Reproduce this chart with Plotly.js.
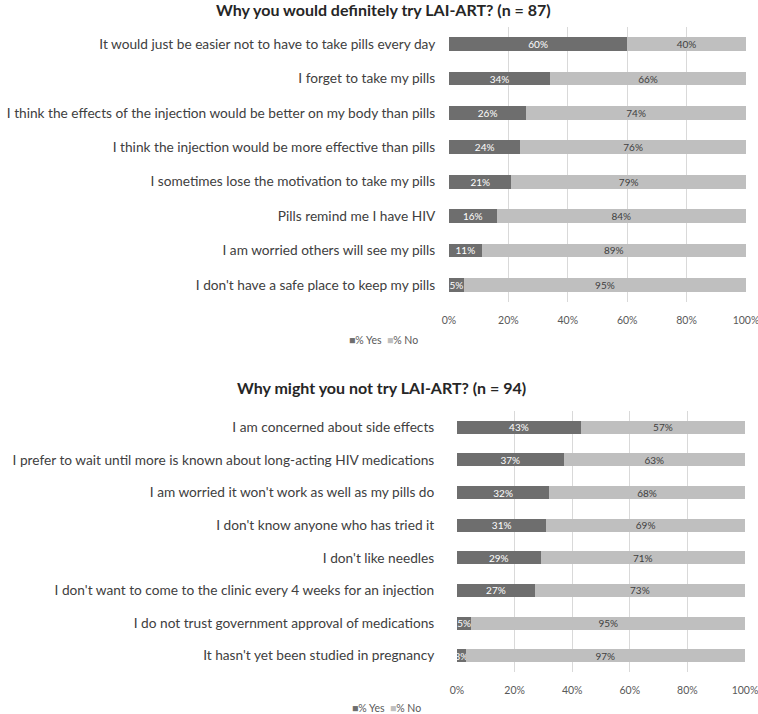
<!DOCTYPE html>
<html>
<head>
<meta charset="utf-8">
<script src="https://cdn.plot.ly/plotly-3.0.1.min.js"></script>
<style>
  html, body { margin: 0; padding: 0; background: #fff; }
  #chart { width: 758px; height: 714px; }
</style>
</head>
<body>
<div id="chart"></div>
<script>
// Top panel: reasons to try
const tryReasons = [
    'It would just be easier not to have to take pills every day',
    'I forget to take my pills',
    'I think the effects of the injection would be better on my body than pills',
    'I think the injection would be more effective than pills',
    'I sometimes lose the motivation to take my pills',
    'Pills remind me I have HIV',
    'I am worried others will see my pills',
    "I don't have a safe place to keep my pills"
];
const tryYes = [60, 34, 26, 24, 21, 16, 11, 5];
const tryNo = [40, 66, 74, 76, 79, 84, 89, 95];

// Bottom panel: reasons not to try
const notReasons = [
    'I am concerned about side effects',
    'I prefer to wait until more is known about long-acting HIV medications',
    "I am worried it won't work as well as my pills do",
    "I don't know anyone who has tried it",
    "I don't like needles",
    "I don't want to come to the clinic every 4 weeks for an injection",
    'I do not trust government approval of medications',
    "It hasn't yet been studied in pregnancy"
];
const notYes = [43, 37, 32, 31, 29, 27, 5, 3];
const notNo = [57, 63, 68, 69, 71, 73, 95, 97];

const xTicks = [0, 20, 40, 60, 80, 100];
const seriesNames = ['% Yes', '% No'];

const DARK = '#6e6e6e';
const LIGHT = '#bfbfbf';
const FONT = 'Lato, "Open Sans", sans-serif';

function barTrace(vals, cats, name, color, textColor, xa, ya) {
    return {
        type: 'bar',
        orientation: 'h',
        x: vals,
        y: cats,
        xaxis: xa,
        yaxis: ya,
        name,
        showlegend: false,
        marker: { color, line: { width: 0 } },
        width: 0.4,
        text: vals.map(v => v + '%'),
        textposition: 'inside',
        insidetextanchor: 'middle',
        textangle: 0,
        constraintext: 'none',
        textfont: { size: 10, color: textColor, family: FONT },
        hoverinfo: 'skip'
    };
}

const traces = [
    barTrace(tryYes, tryReasons, seriesNames[0], DARK, '#ffffff', 'x', 'y'),
    barTrace(tryNo, tryReasons, seriesNames[1], LIGHT, '#404040', 'x', 'y'),
    barTrace(notYes, notReasons, seriesNames[0], DARK, '#ffffff', 'x2', 'y2'),
    barTrace(notNo, notReasons, seriesNames[1], LIGHT, '#404040', 'x2', 'y2')
];

const xCommon = {
    range: [-0.01, 100.01],
    tickvals: xTicks,
    ticktext: xTicks.map(v => v + '%'),
    showgrid: true,
    gridcolor: '#d9d9d9',
    gridwidth: 1,
    zeroline: false,
    showline: false,
    ticks: '',
    ticklabelstandoff: 10,
    ticklabeloverflow: 'allow',
    tickfont: { size: 10.5, color: '#595959', family: FONT },
    fixedrange: true
};

const yCommon = {
    autorange: 'reversed',
    showgrid: false,
    zeroline: false,
    showline: false,
    ticks: 'outside',
    tickcolor: 'rgba(0,0,0,0)',
    tickfont: { size: 13.7, color: '#404040', family: FONT },
    fixedrange: true
};

// legend drawn as a compact text line, like the original
function legendText() {
    return `<span style="color:${DARK}">■</span>${seriesNames[0]}  ` +
           `<span style="color:${LIGHT}">■</span>${seriesNames[1]}`;
}

const layout = {
    width: 758,
    height: 714,
    margin: { l: 0, r: 0, t: 0, b: 0 },
    paper_bgcolor: '#ffffff',
    plot_bgcolor: '#ffffff',
    barmode: 'stack',
    showlegend: false,
    font: { family: FONT, color: '#404040' },
    uniformtext: { mode: 'show', minsize: 10 },
    xaxis: { ...xCommon, domain: [449 / 758, 746 / 758], anchor: 'y' },
    yaxis: { ...yCommon, domain: [1 - 302 / 714, 1 - 27 / 714], anchor: 'x', ticklen: 10 },
    xaxis2: { ...xCommon, domain: [457 / 758, 745 / 758], anchor: 'y2' },
    yaxis2: { ...yCommon, domain: [1 - 672 / 714, 1 - 411 / 714], anchor: 'x2', ticklen: 19 },
    annotations: [
        {
            text: '<b>Why you would definitely try LAI-ART? (n = 87)</b>',
            x: 383 / 758, y: 1 - 10 / 714, xref: 'paper', yref: 'paper',
            xanchor: 'center', yanchor: 'middle', showarrow: false,
            font: { size: 16, color: '#262626', family: FONT }
        },
        {
            text: '<b>Why might you not try LAI-ART? (n = 94)</b>',
            x: 381 / 758, y: 1 - 388 / 714, xref: 'paper', yref: 'paper',
            xanchor: 'center', yanchor: 'middle', showarrow: false,
            font: { size: 16, color: '#262626', family: FONT }
        },
        {
            text: legendText(),
            x: 383 / 758, y: 1 - 340 / 714, xref: 'paper', yref: 'paper',
            xanchor: 'center', yanchor: 'middle', showarrow: false,
            font: { size: 10.5, color: '#595959', family: FONT }
        },
        {
            text: legendText(),
            x: 386 / 758, y: 1 - 708 / 714, xref: 'paper', yref: 'paper',
            xanchor: 'center', yanchor: 'middle', showarrow: false,
            font: { size: 10.5, color: '#595959', family: FONT }
        }
    ]
};

Plotly.newPlot('chart', traces, layout, { displayModeBar: false, staticPlot: true });
</script>
</body>
</html>
